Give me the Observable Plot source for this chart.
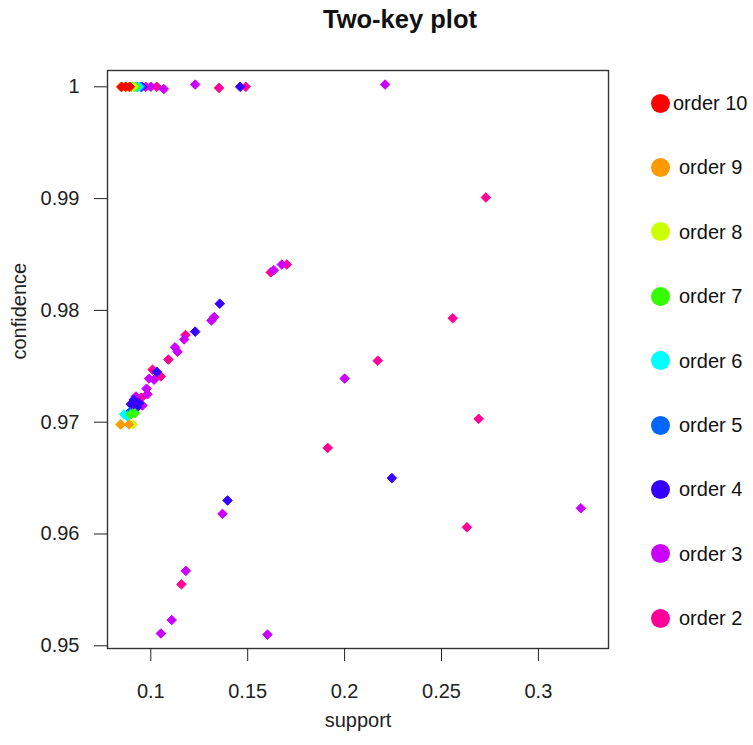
<!DOCTYPE html>
<html>
<head>
<meta charset="utf-8">
<script src="https://cdn.jsdelivr.net/npm/d3@7"></script>
<script src="https://cdn.jsdelivr.net/npm/@observablehq/plot@0.6"></script>
<style>
  html, body { margin: 0; padding: 0; background: #fff; }
  #wrap { position: relative; width: 753px; height: 745px; font-family: "Liberation Sans", Arial, sans-serif; color: #111; }
  #chart { position: absolute; left: 0; top: 0; }
  #title { position: absolute; left: 0; top: 6px; width: 800px; text-align: center; font-weight: bold; font-size: 25.5px; line-height: 26px; }
  .lg { position: absolute; font-size: 20px; line-height: 20px; white-space: nowrap; }
  .sw { position: absolute; width: 19px; height: 19px; border-radius: 50%; }
</style>
</head>
<body>
<div id="wrap">
  <div id="chart"></div>
  <div id="title">Two-key plot</div>
  <div id="legend"></div>
</div>
<script>
// Orders (legend/series) and their colours
const orders = [2, 3, 4, 5, 6, 7, 8, 9, 10];
const orderColors = ["#FF0099", "#CC00FF", "#3300FF", "#0066FF", "#00FFFF", "#33FF00", "#CCFF00", "#FF9900", "#FF0000"];

// Axis ticks
const xTicks = [0.1, 0.15, 0.2, 0.25, 0.3];
const yTicks = [0.95, 0.96, 0.97, 0.98, 0.99, 1];

// order 2
const support2    = [0.1031, 0.1352, 0.1490, 0.0952, 0.1009, 0.1052, 0.1091, 0.1179, 0.1619, 0.1702, 0.2729, 0.2558, 0.1913, 0.2171, 0.2692, 0.2631, 0.1158];
const confidence2 = [1.0000, 0.9999, 1.0000, 0.9722, 0.9747, 0.9741, 0.9756, 0.9778, 0.9834, 0.9841, 0.9901, 0.9793, 0.9677, 0.9755, 0.9703, 0.9606, 0.9555];
// order 3
const support3    = [0.0974, 0.1000, 0.1067, 0.1229, 0.2209, 0.0923, 0.0978, 0.0983, 0.0991, 0.1017, 0.1125, 0.1138, 0.1172, 0.1313, 0.1327, 0.1635, 0.1676, 0.0957, 0.2000, 0.3219, 0.1370, 0.1181, 0.1108, 0.1052, 0.1602];
const confidence3 = [1.0000, 1.0000, 0.9998, 1.0002, 1.0002, 0.9723, 0.9730, 0.9725, 0.9739, 0.9738, 0.9767, 0.9763, 0.9774, 0.9791, 0.9794, 0.9836, 0.9841, 0.9715, 0.9739, 0.9623, 0.9618, 0.9567, 0.9523, 0.9511, 0.9510];
// order 4
const support4    = [0.1461, 0.0954, 0.1031, 0.1229, 0.1356, 0.0897, 0.0913, 0.0940, 0.0928, 0.0912, 0.1396, 0.2244];
const confidence4 = [1.0000, 1.0000, 0.9745, 0.9781, 0.9806, 0.9716, 0.9716, 0.9717, 0.9713, 0.9720, 0.9630, 0.9650];
// order 5
const support5    = [0.0928, 0.0948, 0.0880, 0.0892];
const confidence5 = [1.0000, 1.0000, 0.9707, 0.9709];
// order 6
const support6    = [0.0917, 0.0938, 0.0862, 0.0880];
const confidence6 = [1.0000, 1.0000, 0.9707, 0.9705];
// order 7
const support7    = [0.0902, 0.0923, 0.0897, 0.0918];
const confidence7 = [1.0000, 1.0000, 0.9707, 0.9708];
// order 8
const support8    = [0.0866, 0.0912, 0.0842, 0.0906];
const confidence8 = [1.0000, 1.0000, 0.9698, 0.9698];
// order 9
const support9    = [0.0845, 0.0886, 0.0845, 0.0888];
const confidence9 = [1.0000, 1.0000, 0.9698, 0.9698];
// order 10
const support10    = [0.0850, 0.0871, 0.0892];
const confidence10 = [1.0000, 1.0000, 1.0000];

const supportLists = [support2, support3, support4, support5, support6, support7, support8, support9, support10];
const confidenceLists = [confidence2, confidence3, confidence4, confidence5, confidence6, confidence7, confidence8, confidence9, confidence10];

const rows = [];
orders.forEach((o, i) => {
  supportLists[i].forEach((s, j) => rows.push({order: o, support: s, confidence: confidenceLists[i][j]}));
});

const fmt = d => String(d);

const chart = Plot.plot({
  width: 753,
  height: 745,
  marginLeft: 107,
  marginRight: 145,
  marginTop: 70,
  marginBottom: 97,
  style: {fontFamily: "Liberation Sans, Arial, sans-serif", fontSize: "20px", color: "#222", background: "transparent", overflow: "visible"},
  x: {domain: [0.07766, 0.33617]},
  y: {domain: [0.949758, 1.001458]},
  color: {type: "ordinal", domain: orders, range: orderColors},
  marks: [
    Plot.dot(rows, {x: "support", y: "confidence", fill: "order", stroke: "order", strokeWidth: 1, strokeLinejoin: "round", symbol: "diamond2", r: 4.3}),
    Plot.frame({stroke: "#333", strokeWidth: 1.4}),
    Plot.axisX({ticks: xTicks, tickFormat: fmt, tickSize: 13, tickPadding: 22, label: null, fontSize: 20}),
    Plot.axisY({ticks: yTicks, tickFormat: fmt, tickSize: 13, tickPadding: 15, label: null, fontSize: 20}),
    Plot.text(["support"], {frameAnchor: "bottom", dy: 78.6, fontSize: 20, fill: "#222"}),
    Plot.text(["confidence"], {frameAnchor: "left", dx: -88.4, rotate: -90, fontSize: 20, fill: "#222"})
  ]
});
document.getElementById("chart").appendChild(chart);

// Legend (order 10 at top down to order 2)
const legend = document.getElementById("legend");
const legendOrders = orders.slice().reverse();
legendOrders.forEach((o, k) => {
  const cy = 103 + k * 64.4;
  const col = orderColors[orders.indexOf(o)];
  const sw = document.createElement("div");
  sw.className = "sw";
  sw.style.left = (660.5 - 9.5) + "px";
  sw.style.top = (cy - 9.5) + "px";
  sw.style.background = col;
  legend.appendChild(sw);
  const t = document.createElement("div");
  t.className = "lg";
  t.textContent = "order " + o;
  t.style.left = (o === 10 ? 673 : 679) + "px";
  t.style.top = (cy - 10) + "px";
  legend.appendChild(t);
});
</script>
</body>
</html>
